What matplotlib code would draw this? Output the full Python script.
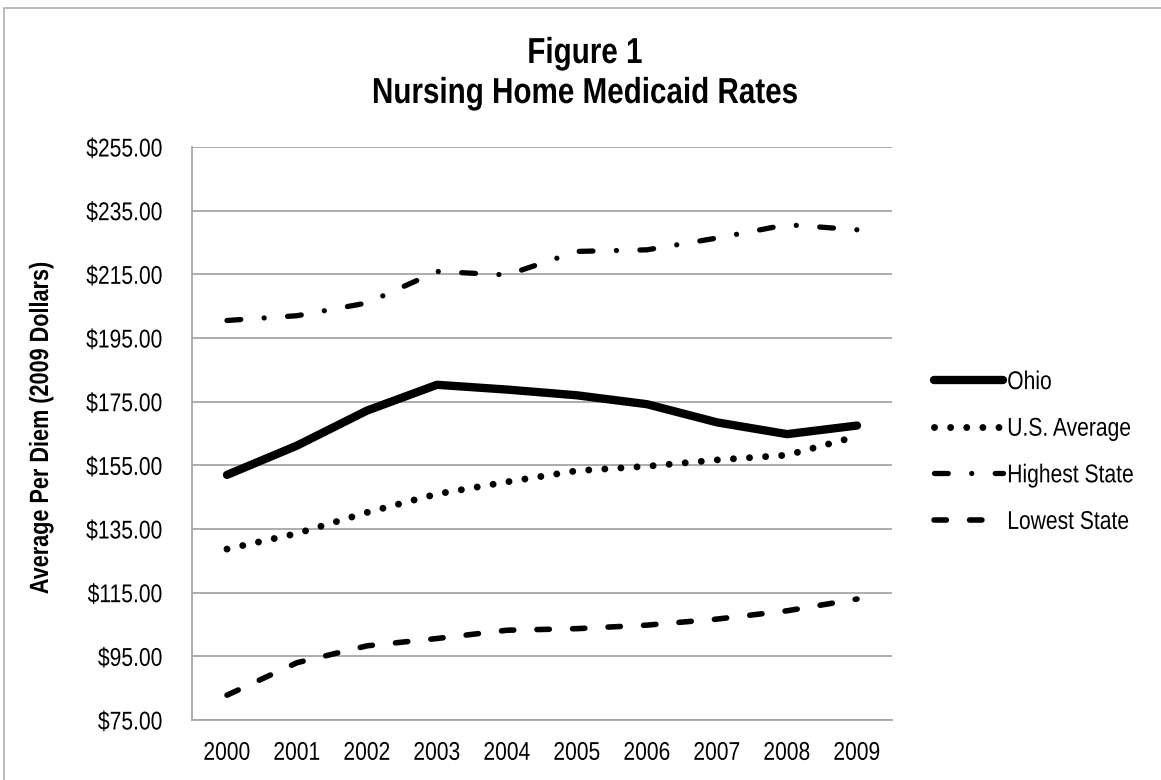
import matplotlib
matplotlib.use("Agg")
import matplotlib.pyplot as plt
from matplotlib.patches import Rectangle
from matplotlib.patheffects import AbstractPathEffect
from matplotlib.transforms import Affine2D

# ---- data ----
years = ["2000", "2001", "2002", "2003", "2004", "2005", "2006", "2007", "2008", "2009"]
ohio = [152.0, 161.2, 172.2, 180.3, 178.8, 177.0, 174.2, 168.5, 164.8, 167.5]
us_avg = [128.7, 133.6, 140.2, 146.0, 149.8, 153.3, 154.7, 156.7, 158.2, 164.1]
highest = [200.5, 202.0, 206.0, 215.9, 214.8, 222.2, 222.7, 226.4, 230.6, 229.0]
lowest = [82.8, 93.0, 98.3, 100.6, 103.2, 103.7, 104.8, 106.7, 109.3, 113.0]
series_labels = ["Ohio", "U.S. Average", "Highest State", "Lowest State"]
yticks = [75, 95, 115, 135, 155, 175, 195, 215, 235, 255]
title_lines = ["Figure 1", "Nursing Home Medicaid Rates"]
ylabel = "Average Per Diem (2009 Dollars)"


class Squeeze(AbstractPathEffect):
    """Draw text horizontally condensed (like a 'Narrow' font face)."""

    def __init__(self, sx=0.82, align=0.0):
        super().__init__()
        self.sx = sx
        self.align = align

    def draw_path(self, renderer, gc, tpath, affine, rgbFace=None):
        ext = tpath.get_extents()
        w = ext.x1
        shift = (1 - self.sx) * w * self.align
        t = Affine2D().scale(self.sx, 1).translate(shift, 0) + affine
        renderer.draw_path(gc, tpath, t, rgbFace)


SQ = 0.82
plt.rcParams["font.family"] = ["Liberation Sans", "DejaVu Sans"]
plt.rcParams["lines.scale_dashes"] = False

W, H = 1161, 780
fig = plt.figure(figsize=(W / 100, H / 100), dpi=100)

# outer chart border
fig.patches.append(Rectangle((4 / W, -0.1), 1.2, (H - 8) / H + 0.1,
                             transform=fig.transFigure, fill=False,
                             edgecolor="#b0b0b0", linewidth=1.2))

ax = fig.add_axes([192 / W, 1 - 720 / H, (892 - 192) / W, (720 - 147) / H])
x = list(range(len(years)))

ax.plot(x, ohio, color="black", linewidth=6, solid_capstyle="round",
        solid_joinstyle="round", label=series_labels[0])
ax.plot(x, us_avg, color="black", linewidth=5.0, linestyle=(0, (0.01, 11.6)),
        dash_capstyle="round", label=series_labels[1])
ax.plot(x, highest, color="black", linewidth=3.8,
        linestyle=(0, (9.9, 16.9, 0.01, 16.9)), dash_capstyle="round",
        label=series_labels[2])
ax.plot(x, lowest, color="black", linewidth=4.0, linestyle=(0, (8.9, 16.7)),
        dash_capstyle="round", label=series_labels[3])

ax.set_xlim(-0.5, len(years) - 0.5)
ax.set_ylim(75, 255)
ax.set_yticks(yticks)
ax.set_yticklabels([f"${v:.2f}" for v in yticks])
ax.set_xticks(x)
ax.set_xticklabels(years)
ax.tick_params(axis="both", length=0, labelsize=18.5, colors="black")
ax.tick_params(axis="y", pad=21)
ax.tick_params(axis="x", pad=15)
for lbl in ax.get_yticklabels():
    lbl.set_path_effects([Squeeze(SQ, 1.0)])
for lbl in ax.get_xticklabels():
    lbl.set_path_effects([Squeeze(SQ, 0.5)])
ax.yaxis.grid(True, color="#a6a6a6", linewidth=1.3)
ax.set_axisbelow(True)
for s in ["top", "right"]:
    ax.spines[s].set_visible(False)
for s in ["left", "bottom"]:
    ax.spines[s].set_color("#a6a6a6")
    ax.spines[s].set_linewidth(1.3)

# titles
for txt, yb in zip(title_lines, [63, 103]):
    fig.text(585 / W, 1 - yb / H, txt, ha="center", va="baseline",
             fontsize=26, fontweight="bold",
             path_effects=[Squeeze(SQ, 0.5)])
fig.text(41 / W, 1 - 428 / H, ylabel, rotation=90, ha="center", va="center",
         fontsize=19, fontweight="bold", path_effects=[Squeeze(SQ, 0.5)])

leg = ax.legend(loc="center left", bbox_to_anchor=(934 / W, 1 - 452 / H),
                bbox_transform=fig.transFigure, frameon=False, fontsize=18.5,
                handlelength=2.7, handletextpad=0.15, labelspacing=0.88,
                borderpad=0, borderaxespad=0)
for t in leg.get_texts():
    t.set_path_effects([Squeeze(SQ, 0.0)])

fig.savefig("out.png", dpi=100)
